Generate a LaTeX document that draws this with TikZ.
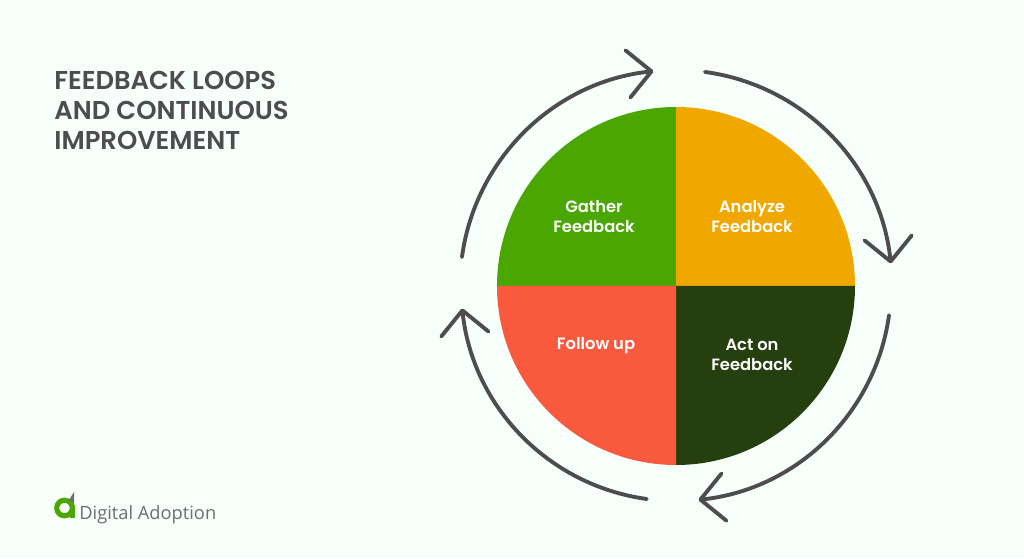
\documentclass[tikz,border=0pt]{standalone}
\usepackage{xcolor}
\usepackage{fontspec}
\setmainfont[BoldFont={Poppins SemiBold}]{Poppins}
\newfontfamily\logofont{Open Sans}
\usetikzlibrary{arrows.meta,calc}
\definecolor{pagemint}{RGB}{247,255,251}
\definecolor{softgray}{RGB}{77,77,77}
\definecolor{logogray}{RGB}{110,110,110}
\definecolor{gathergreen}{RGB}{74,166,0}
\definecolor{analyzeamber}{RGB}{240,168,0}
\definecolor{followred}{RGB}{249,90,62}
\definecolor{actgreen}{RGB}{38,63,14}
\tikzset{
  looparrow/.style={softgray,line width=2.2pt,line cap=round,
    -{Straight Barb[length=13.5pt,width=27pt,line width=2.2pt,round]}},
  steplabel/.style={font=\fontsize{9.3}{11.4}\selectfont\bfseries,text=white,align=center}
}

\begin{document}
\begin{tikzpicture}[x=0.02cm,y=0.02cm]
    % page
    \fill[pagemint] (0,0) rectangle (1024,558);
    \coordinate (hub) at (676,272);
    % quarters
    \fill[gathergreen] (hub) -- ++(180:179) arc[start angle=180,end angle=90,radius=179] -- cycle;
    \fill[analyzeamber] (hub) -- ++(90:179) arc[start angle=90,end angle=0,radius=179] -- cycle;
    \fill[actgreen] (hub) -- ++(0:179) arc[start angle=0,end angle=-90,radius=179] -- cycle;
    \fill[followred] (hub) -- ++(-90:179) arc[start angle=-90,end angle=-180,radius=179] -- cycle;
    % labels
    \node[steplabel] (gather) at (594,341) {Gather\\Feedback};
    \node[steplabel] (analyze) at (752,341) {Analyze\\Feedback};
    \node[steplabel] (follow) at (596,212) {Follow up};
    \node[steplabel] (act) at (752,203) {Act on\\Feedback};
    % arrows round the circle
    \coordinate (arrowa) at ($(hub)+(172.3:216)$);
    \coordinate (arrowb) at ($(hub)+(82.3:216)$);
    \coordinate (arrowc) at ($(hub)+(-7.8:215)$);
    \coordinate (arrowd) at ($(hub)+(-97.8:215)$);
    \draw[looparrow] (arrowa) arc[start angle=172.3,end angle=96,radius=216];
    \draw[looparrow] (arrowb) arc[start angle=82.3,end angle=6,radius=216];
    \draw[looparrow] (arrowc) arc[start angle=-7.8,end angle=-84,radius=215];
    \draw[looparrow] (arrowd) arc[start angle=-97.8,end angle=-174,radius=215];
    % title
    \node[anchor=north west,inner sep=0pt,text=softgray,align=left,
          font=\fontsize{14.7}{17.07}\selectfont\bfseries] (title) at (54,487)
          {FEEDBACK LOOPS\\AND CONTINUOUS\\IMPROVEMENT};
    % logo
    \draw[gathergreen,line width=2.9pt] (64.5,50) circle (7.8);
    \draw[gathergreen,line width=2.9pt] (72.5,53) -- (72.5,40);
    \fill[logogray] (74,66) -- (69,58) -- (70,56) -- (74,55) -- cycle;
    \node[anchor=base west,inner sep=0pt,text=logogray,
          font=\logofont\fontsize{10.4}{13}\selectfont] (brand) at (79,39) {Digital Adoption};
  \end{tikzpicture}
\end{document}
